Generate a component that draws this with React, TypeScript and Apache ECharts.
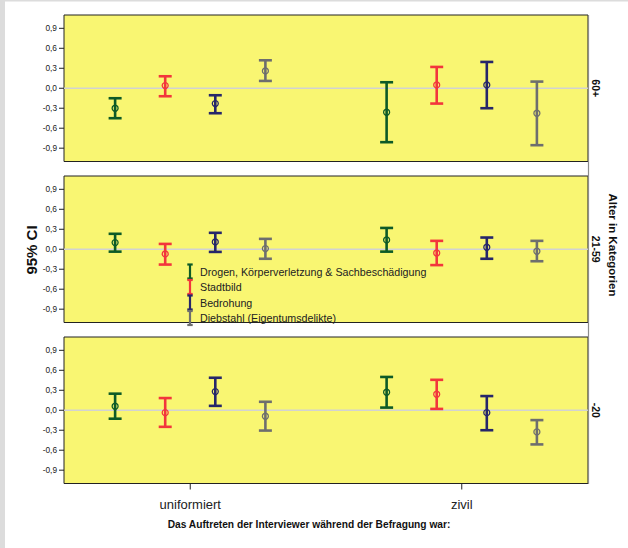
import React, { useEffect, useRef } from "react";
import * as echarts from "echarts";

const categories = ["uniformiert", "zivil"];
const seriesNames = [
  "Drogen, Körperverletzung & Sachbeschädigung",
  "Stadtbild",
  "Bedrohung",
  "Diebstahl (Eigentumsdelikte)",
];
const seriesColors = ["#0d5a27", "#f2363c", "#26266a", "#6e6e6e"];
const ageGroups = ["60+", "21-59", "-20"];
const yTicks = [-0.9, -0.6, -0.3, 0, 0.3, 0.6, 0.9];

// each row: one series, values for [uniformiert, zivil]
const mean60 = [[-0.3, -0.36], [0.04, 0.05], [-0.23, 0.05], [0.26, -0.375]];
const lower60 = [[-0.45, -0.81], [-0.12, -0.23], [-0.375, -0.3], [0.11, -0.855]];
const upper60 = [[-0.15, 0.09], [0.18, 0.32], [-0.105, 0.395], [0.42, 0.1]];

const mean2159 = [[0.1, 0.14], [-0.07, -0.056], [0.11, 0.03], [0.01, -0.03]];
const lower2159 = [[-0.036, -0.036], [-0.23, -0.238], [-0.04, -0.143], [-0.143, -0.18]];
const upper2159 = [[0.232, 0.32], [0.08, 0.126], [0.247, 0.176], [0.156, 0.126]];

const mean20 = [[0.06, 0.27], [-0.036, 0.24], [0.28, -0.036], [-0.09, -0.325]];
const lower20 = [[-0.127, 0.04], [-0.249, 0.02], [0.066, -0.3], [-0.305, -0.513]];
const upper20 = [[0.249, 0.5], [0.183, 0.457], [0.488, 0.213], [0.127, -0.148]];

const panelMeans = [mean60, mean2159, mean20];
const panelLowers = [lower60, lower2159, lower20];
const panelUppers = [upper60, upper2159, upper20];

const FONT = '"Liberation Sans", Arial, sans-serif';

export default function App() {
  const ref = useRef<HTMLDivElement>(null);

  useEffect(() => {
    if (!ref.current) return;
    const chart = echarts.init(ref.current, undefined, { renderer: "svg" });

    const gridTops = [15, 176, 337];
    const gridH = 146.5;
    const xMin = -0.465;
    const xMax = 1.465;
    const yMin = -1.1;
    const yMax = 1.1;
    const groupStep = 0.1845;

    const grids = gridTops.map((t) => ({
      left: 64,
      right: 40,
      top: t,
      height: gridH,
      show: true,
      backgroundColor: "#f9f672",
      borderColor: "#222",
      borderWidth: 1,
    }));

    const xAxes = gridTops.map((_, p) => ({
      type: "value",
      gridIndex: p,
      position: "bottom",
      min: xMin,
      max: xMax,
      show: p === 2,
      axisLine: { show: false, onZero: false },
      splitLine: { show: false },
      axisTick: { show: false },
      axisLabel: {
        show: true,
        customValues: [0, 1],
        formatter: (v: number) => categories[Math.round(v)] ?? "",
        fontSize: 13,
        fontFamily: FONT,
        color: "#222",
        margin: 14,
      },
    }));

    const yAxes = gridTops.map((_, p) => ({
      type: "value",
      gridIndex: p,
      position: "left",
      min: yMin,
      max: yMax,
      axisLine: { show: false, onZero: false },
      splitLine: { show: false },
      axisTick: { show: false },
      axisLabel: {
        show: true,
        customValues: yTicks,
        formatter: (v: number) => v.toFixed(1).replace(".", ","),
        fontSize: 8.3,
        fontFamily: FONT,
        color: "#222",
        margin: 7,
      },
    }));

    const tickStyle = { stroke: "#222", lineWidth: 1 };

    const series: any[] = [];
    gridTops.forEach((_, p) => {
      // zero reference line
      series.push({
        type: "line",
        xAxisIndex: p,
        yAxisIndex: p,
        data: [
          [xMin, 0],
          [xMax, 0],
        ],
        symbol: "none",
        silent: true,
        lineStyle: { color: "#d2d2d2", width: 1.6 },
        z: 1,
      });
      // y ticks
      series.push({
        type: "custom",
        xAxisIndex: p,
        yAxisIndex: p,
        silent: true,
        clip: false,
        z: 4,
        data: yTicks.map((v) => [xMin, v]),
        renderItem: (_params: any, api: any) => {
          const pt = api.coord([api.value(0), api.value(1)]);
          return {
            type: "line",
            shape: { x1: pt[0] - 5, y1: pt[1], x2: pt[0], y2: pt[1] },
            style: tickStyle,
          };
        },
      });
      if (p === 2) {
        series.push({
          type: "custom",
          xAxisIndex: p,
          yAxisIndex: p,
          silent: true,
          clip: false,
          z: 4,
          data: categories.map((_, i) => [i, yMin]),
          renderItem: (_params: any, api: any) => {
            const pt = api.coord([api.value(0), api.value(1)]);
            return {
              type: "line",
              shape: { x1: pt[0], y1: pt[1], x2: pt[0], y2: pt[1] + 6 },
              style: tickStyle,
            };
          },
        });
      }
      seriesNames.forEach((name, s) => {
        const color = seriesColors[s];
        const data = categories.map((_, i) => [
          i + (s - 1.5) * groupStep,
          panelLowers[p][s][i],
          panelUppers[p][s][i],
          panelMeans[p][s][i],
        ]);
        series.push({
          type: "custom",
          name,
          xAxisIndex: p,
          yAxisIndex: p,
          z: 3,
          encode: { x: 0, y: [1, 2, 3] },
          data,
          renderItem: (_params: any, api: any) => {
            const x = api.value(0);
            const lo = api.coord([x, api.value(1)]);
            const hi = api.coord([x, api.value(2)]);
            const m = api.coord([x, api.value(3)]);
            const cx = lo[0];
            const hw = 6.5;
            const st = { stroke: color, lineWidth: 2.6 };
            return {
              type: "group",
              children: [
                { type: "line", shape: { x1: cx, y1: lo[1], x2: cx, y2: hi[1] }, style: st },
                { type: "line", shape: { x1: cx - hw, y1: hi[1], x2: cx + hw, y2: hi[1] }, style: st },
                { type: "line", shape: { x1: cx - hw, y1: lo[1], x2: cx + hw, y2: lo[1] }, style: st },
                {
                  type: "circle",
                  shape: { cx, cy: m[1], r: 3 },
                  style: { stroke: color, fill: "rgba(0,0,0,0)", lineWidth: 1.3 },
                },
              ],
            };
          },
        });
      });
    });

    const textEl = (
      text: string,
      x: number,
      y: number,
      font: string,
      rotation: number,
      align = "center"
    ) => ({
      type: "text",
      x,
      y,
      rotation,
      z: 100,
      style: {
        text,
        x: 0,
        y: 0,
        font,
        fill: "#111",
        align,
        verticalAlign: "middle",
        textAlign: align,
        textVerticalAlign: "middle",
      },
    });

    const legendRows = [271.5, 287, 302.5, 318];
    const legendEls: any[] = [];
    seriesNames.forEach((name, s) => {
      const y = legendRows[s];
      const c = seriesColors[s];
      const st = { stroke: c, lineWidth: 2.2 };
      legendEls.push(
        { type: "line", z: 100, shape: { x1: 190, y1: y - 7, x2: 190, y2: y + 7 }, style: st },
        { type: "line", z: 100, shape: { x1: 187.3, y1: y - 7, x2: 192.7, y2: y - 7 }, style: st },
        { type: "line", z: 100, shape: { x1: 187.3, y1: y + 7, x2: 192.7, y2: y + 7 }, style: st }
      );
      legendEls.push({
        type: "text",
        z: 100,
        style: {
          text: name,
          x: 200,
          y,
          font: `10.7px ${FONT}`,
          fill: "#222",
          align: "left",
          verticalAlign: "middle",
          textAlign: "left",
          textVerticalAlign: "middle",
        },
      });
    });

    const ageEls = ageGroups.map((g, p) =>
      textEl(g, 596, gridTops[p] + gridH / 2, `bold 10.5px ${FONT}`, -Math.PI / 2)
    );

    const option: any = {
      animation: false,
      backgroundColor: "#ffffff",
      grid: grids,
      xAxis: xAxes,
      yAxis: yAxes,
      series,
      graphic: [
        { type: "rect", shape: { x: 0, y: 0, width: 5, height: 548 }, style: { fill: "#dcdcdc" }, z: 0 },
        { type: "rect", shape: { x: 0, y: 0, width: 628, height: 1.5 }, style: { fill: "#dcdcdc" }, z: 0 },
        {
          type: "line",
          z: 50,
          shape: { x1: 588.5, y1: 15, x2: 588.5, y2: 484 },
          style: { stroke: "#8c8c8c", lineWidth: 1.2 },
        },
        textEl("95% CI", 31.5, 250, `bold 15px ${FONT}`, Math.PI / 2),
        textEl("Alter in Kategorien", 613, 245, `bold 11.5px ${FONT}`, -Math.PI / 2),
        ...ageEls,
        textEl(
          "Das Auftreten der Interviewer während der Befragung war:",
          309,
          524,
          `bold 10.2px ${FONT}`,
          0
        ),
        ...legendEls,
      ],
    };

    chart.setOption(option);
    return () => chart.dispose();
  }, []);

  return (
    <div
      ref={ref}
      style={{ position: "fixed", left: 0, top: 0, width: 628, height: 548 }}
    />
  );
}
